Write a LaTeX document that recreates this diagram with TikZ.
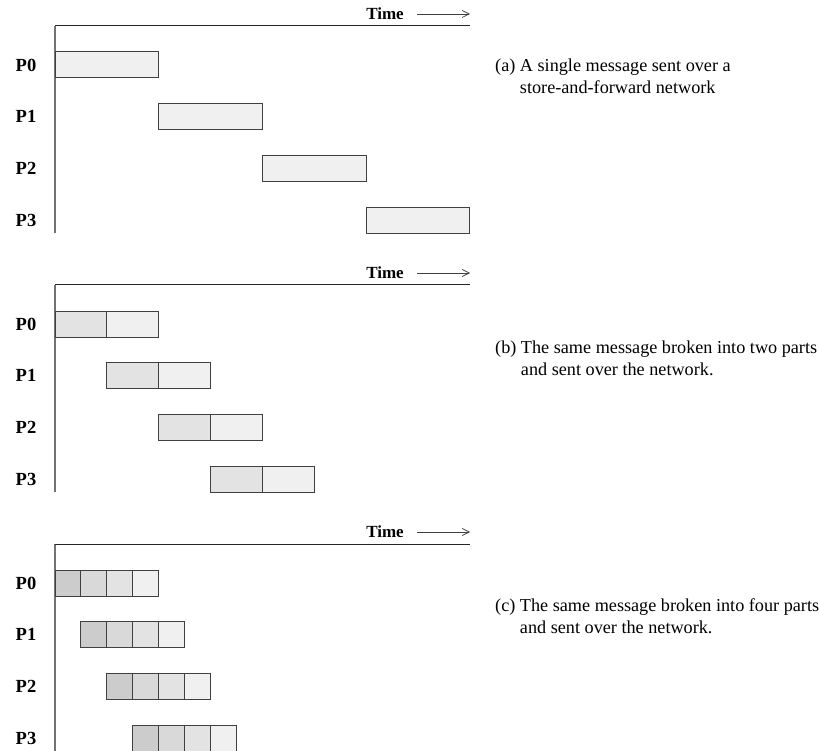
\documentclass[tikz,border=0pt]{standalone}
\usepackage{fontspec}
\setmainfont{Liberation Serif}
\usetikzlibrary{positioning,arrows.meta}
\def\panels{0/a/1, 259/b/2, 518/c/4}
\def\procs{0/P0, 1/P1, 2/P2, 3/P3}
\colorlet{axis line}{black!55}
\colorlet{box edge}{black!75}
\tikzset{
  proc label/.style={font=\fontsize{18.5}{20}\bfseries\selectfont, inner sep=0pt},
  time label/.style={font=\fontsize{17}{19}\bfseries\selectfont, inner sep=0pt},
  caption/.style={font=\fontsize{18.2}{21.5}\selectfont, anchor=west, inner sep=0pt}
  }
\tikzstyle{axis} = [draw, line width=1.3pt, axis line]
\tikzstyle{top axis} = [draw, line width=1pt, black!85]
\tikzstyle{time arrow} = [draw, line width=0.7pt, -{Straight Barb[length=7pt,width=7pt]}, black!75]
\tikzstyle{packet} = [draw=box edge, line width=1pt, anchor=north west, minimum height=26pt, inner sep=0pt, outer sep=0pt]
\newcommand\subcaption[3]{\begin{tabular}{@{}l@{\ }l@{}}#1&#2\\&#3\end{tabular}}

\begin{document}
\begin{tikzpicture}[x=1pt,y=-1pt]
  \useasboundingbox (0,0) rectangle (819,751);

  \foreach \top/\tag/\parts in \panels {
    % The time axis and the process axis
    \coordinate (\tag-origin) at (55,\top+26);
    \coordinate (\tag-end) at (470,\top+26);
    \coordinate (\tag-bottom) at (55,\top+233);
    \path[axis] (\tag-bottom) -- (\tag-origin);
    \path[top axis] (\tag-origin) -- (\tag-end);
    \node[time label] (\tag-time) at (385,\top+14) {Time};
    \coordinate (\tag-tip) at (470,\top+14);
    \path[time arrow] ([xshift=13pt]\tag-time.east) -- (\tag-tip);

    % The packets sent by each process
    \pgfmathsetmacro\w{103.7/\parts}
    \foreach \i/\name in \procs {
      \node[proc label] (\tag-\name) at (26,\top+65+51.7*\i) {\name};
      \foreach \j in {1,...,\parts} {
        \pgfmathsetmacro\shade{{6,11,15,20}[\parts-\j]}
        \node[packet, minimum width=\w pt, fill=black!\shade]
          (\tag-\name-\j) at (55+\i*\w+\j*\w-\w,\top+52+51.7*\i) {};
      }
    }
  }

  % The captions
  \node[caption] (a-caption) at (495,78) {\subcaption{(a)}{A single message sent over a}{store-and-forward network}};
  \node[caption] (b-caption) at (495,360) {\subcaption{(b)}{The same message broken into two parts}{and sent over the network.}};
  \node[caption] (c-caption) at (495,618) {\subcaption{(c)}{The same message broken into four parts}{and sent over the network.}};

\end{tikzpicture}
\end{document}
